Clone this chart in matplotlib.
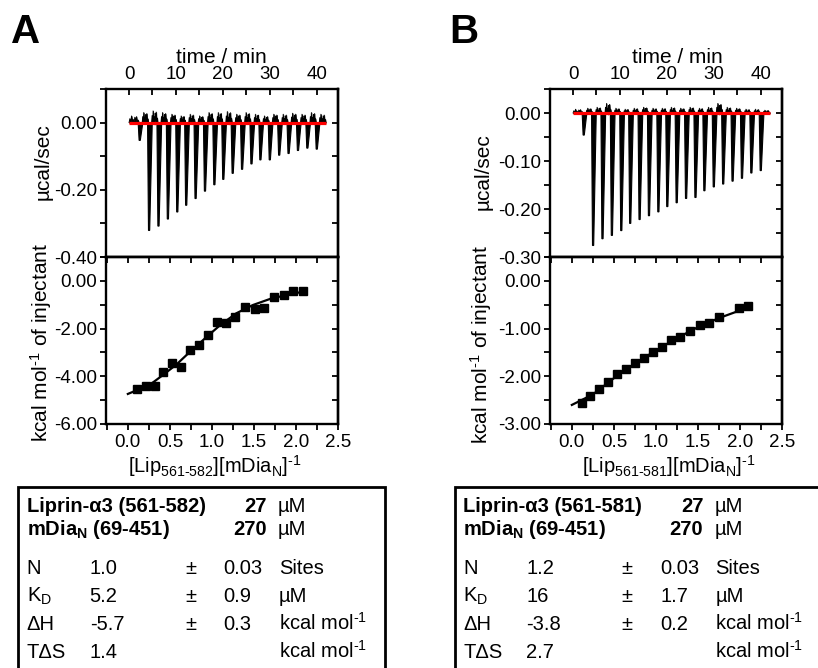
import matplotlib.pyplot as plt
from matplotlib.patches import Rectangle
from matplotlib.ticker import MultipleLocator, FormatStrFormatter

plt.rcParams['font.family'] = ['Liberation Sans', 'DejaVu Sans']
plt.rcParams['mathtext.fontset'] = 'custom'
plt.rcParams['mathtext.rm'] = 'Liberation Sans'
plt.rcParams['mathtext.it'] = 'Liberation Sans:italic'
plt.rcParams['mathtext.bf'] = 'Liberation Sans:bold'
plt.rcParams['axes.unicode_minus'] = False

# ---- data ----
# injection times (min), shared by both runs
inj_time = [2.2, 4.2, 6.2, 8.2, 10.2, 12.1, 14.1, 16.1, 18.1, 20.0,
            22.0, 24.0, 26.0, 27.9, 29.9, 31.9, 33.9, 35.9, 37.9, 39.9]

# peak heights of the raw thermograms (ucal/sec)
peak_a = [-0.053, -0.321, -0.308, -0.287, -0.266, -0.246, -0.226, -0.204, -0.185, -0.169,
          -0.151, -0.139, -0.123, -0.111, -0.111, -0.097, -0.092, -0.083, -0.076, -0.079]
peak_b = [-0.046, -0.276, -0.262, -0.255, -0.245, -0.230, -0.222, -0.214, -0.206, -0.195,
          -0.187, -0.178, -0.176, -0.162, -0.154, -0.148, -0.142, -0.136, -0.125, -0.120]

# largest baseline excursion between injections (ucal/sec)
noise_a = [0.020, 0.030, 0.035, 0.030, 0.025, 0.020, 0.025, 0.020, 0.030, 0.030, 0.033,
           0.025, 0.030, 0.025, 0.020, 0.025, 0.025, 0.028, 0.025, 0.030, 0.025]
noise_b = [0.008, 0.010, 0.012, 0.020, 0.010, 0.008, 0.010, 0.012, 0.010, 0.010, 0.012,
           0.010, 0.012, 0.010, 0.012, 0.020, 0.012, 0.010, 0.008, 0.008, 0.006]

# integrated heats: molar ratio and kcal/mol of injectant
ratio_a = [0.111, 0.218, 0.317, 0.420, 0.528, 0.630, 0.738, 0.841, 0.948, 1.060,
           1.163, 1.274, 1.397, 1.508, 1.619, 1.734, 1.857, 1.964, 2.079]
heat_a = [-4.53, -4.42, -4.42, -3.83, -3.44, -3.61, -2.90, -2.70, -2.25, -1.73,
          -1.76, -1.50, -1.10, -1.17, -1.12, -0.66, -0.60, -0.43, -0.41]
ratio_b = [0.116, 0.219, 0.327, 0.431, 0.538, 0.642, 0.750, 0.853, 0.961, 1.069,
           1.180, 1.288, 1.403, 1.519, 1.635, 1.746, 1.986, 2.100]
heat_b = [-2.55, -2.41, -2.26, -2.13, -1.96, -1.85, -1.72, -1.62, -1.50, -1.38,
          -1.24, -1.18, -1.05, -0.92, -0.88, -0.75, -0.56, -0.52]

# fitted curves as drawn
fit_ratio_a = [0.00, 0.26, 0.42, 0.58, 0.74, 0.94, 1.10, 1.29, 1.49, 1.69, 1.89, 2.09]
fit_heat_a = [-4.74, -4.36, -3.94, -3.50, -2.97, -2.34, -1.85, -1.36, -1.01, -0.76, -0.59, -0.45]
fit_ratio_b = [0.00, 0.25, 0.50, 0.75, 1.00, 1.25, 1.50, 1.75, 2.00, 2.11]
fit_heat_b = [-2.60, -2.38, -2.04, -1.73, -1.46, -1.20, -0.97, -0.78, -0.62, -0.55]

# fit result tables
header_a = [('Liprin-\u03b13 (561-582)', '27'), (r'mDia$_{\mathbf{N}}$ (69-451)', '270')]
header_b = [('Liprin-\u03b13 (561-581)', '27'), (r'mDia$_{\mathbf{N}}$ (69-451)', '270')]
param_names = ['N', r'K$_{\mathrm{D}}$', '\u0394H', 'T\u0394S']
param_units = ['Sites', '\u00b5M', r'kcal mol$^{\text{-1}}$', r'kcal mol$^{\text{-1}}$']
value_a = ['1.0', '5.2', '-5.7', '1.4']
error_a = ['0.03', '0.9', '0.3', '']
value_b = ['1.2', '16', '-3.8', '2.7']
error_b = ['0.03', '1.7', '0.2', '']

W, H = 818, 668
fig = plt.figure(figsize=(W / 100, H / 100), dpi=100)

TICK_FS = 13.5
LABEL_FS = 15
TABLE_FS = 14.5


def fx(px):
    return px / W


def fy(py):
    return 1 - py / H


def style_axes(ax, xmaj, xmin, ymaj, ymin, fmt, in_side):
    for s in ax.spines.values():
        s.set_linewidth(1.7)
    ax.xaxis.set_major_locator(MultipleLocator(xmaj))
    ax.xaxis.set_minor_locator(MultipleLocator(xmin))
    ax.yaxis.set_major_locator(MultipleLocator(ymaj))
    ax.yaxis.set_minor_locator(MultipleLocator(ymin))
    ax.yaxis.set_major_formatter(FormatStrFormatter(fmt))
    ax.tick_params(which='both', length=4, width=1.3, labelsize=TICK_FS)
    ax.tick_params(axis='y', which='both', direction='out', left=True, right=False, pad=2.5)
    # mirrored ticks on the right side, pointing in
    sec = ax.secondary_yaxis('right')
    sec.yaxis.set_major_locator(MultipleLocator(ymaj))
    sec.yaxis.set_minor_locator(MultipleLocator(ymin))
    sec.tick_params(which='both', direction='in', length=4, width=1.3, labelright=False)
    sec.spines['right'].set_linewidth(1.7)
    if in_side == 'top':
        sec2 = ax.secondary_xaxis('top')
        sec2.xaxis.set_major_locator(MultipleLocator(xmaj))
        sec2.xaxis.set_minor_locator(MultipleLocator(xmin))
        sec2.tick_params(which='both', direction='in', length=4, width=1.3, labeltop=False)
        sec2.spines['top'].set_linewidth(1.7)
        ax.tick_params(axis='x', which='both', direction='out', top=False, bottom=True, pad=3.5)


def draw_trace(ax, peaks, noise):
    # baseline noise between injections
    zig = [0.0, 0.6, -0.2, 1.0, 0.1, 0.5, -0.3, 0.8, 0.2, 0.9, -0.1, 0.4, 0.0]
    edges = [0.0] + inj_time + [42.0]
    for k in range(len(edges) - 1):
        a = edges[k] + (0.6 if k > 0 else 0.0)
        b = edges[k + 1] - 0.1
        n = len(zig)
        xs = [a + (b - a) * i / (n - 1) for i in range(n)]
        ys = [v * noise[k] if v > 0 else v * noise[k] * 0.5 for v in zig]
        ax.fill_between(xs, ys, 0, color='black', lw=0.6)
        ax.plot(xs, ys, color='black', lw=0.6)
    # injection peaks
    for t, d in zip(inj_time, peaks):
        ax.fill([t - 0.25, t - 0.05, t + 0.2, t + 0.75], [0, d, d, 0],
                color='black', lw=0.8)
    ax.plot([0, 42], [0, 0], color='red', lw=2.3, solid_capstyle='butt', zorder=5)


def panel(left, peaks, noise, raw_ylim, raw_major, raw_minor, ratio, heat,
          fit_r, fit_h, heat_ylim, heat_major, heat_minor):
    w = 232
    ax1 = fig.add_axes([fx(left), fy(257), fx(w), 168 / H])
    ax2 = fig.add_axes([fx(left), fy(424), fx(w), 167 / H])

    draw_trace(ax1, peaks, noise)
    ax1.set_xlim(-4.9, 44.5)
    ax1.set_ylim(*raw_ylim)
    style_axes(ax1, 10, 5, raw_major, raw_minor, '%.2f', None)
    ax1.xaxis.tick_top()
    ax1.tick_params(axis='x', which='both', direction='in', top=True, bottom=False, pad=4)

    ax2.plot(fit_r, fit_h, color='black', lw=1.6)
    ax2.plot(ratio, heat, 's', color='black', ms=6)
    ax2.set_xlim(-0.26, 2.5)
    ax2.set_ylim(*heat_ylim)
    style_axes(ax2, 0.5, 0.25, heat_major, heat_minor, '%.2f', 'top')
    ax2.xaxis.set_major_formatter(FormatStrFormatter('%.1f'))
    return ax1, ax2


panel(106, peak_a, noise_a, (-0.40, 0.10), 0.2, 0.1, ratio_a, heat_a,
      fit_ratio_a, fit_heat_a, (-6, 1), 2, 1)
panel(550, peak_b, noise_b, (-0.30, 0.05), 0.1, 0.05, ratio_b, heat_b,
      fit_ratio_b, fit_heat_b, (-3, 0.5), 1, 0.5)

# panel letters and axis titles
fig.text(fx(11), fy(43.3), 'A', fontsize=29, fontweight='bold', va='baseline')
fig.text(fx(449), fy(43.3), 'B', fontsize=29, fontweight='bold', va='baseline')
for cx, cy_top, cy_bot, xl_top, xl_bot, xlabel in [
        (43, 162, 343, 221, 215, r'[Lip$_{\mathrm{561\text{-}582}}$][mDia$_{\mathrm{N}}$]$^{\text{-1}}$'),
        (483, 172, 345, 677, 669, r'[Lip$_{\mathrm{561\text{-}581}}$][mDia$_{\mathrm{N}}$]$^{\text{-1}}$')]:
    fig.text(fx(cx), fy(cy_top), '\u00b5cal/sec', rotation=90, ha='center', va='center', fontsize=LABEL_FS)
    fig.text(fx(cx - 2), fy(cy_bot), r'kcal mol$^{\text{-1}}$ of injectant', rotation=90,
             ha='center', va='center', fontsize=LABEL_FS)
    fig.text(fx(xl_top), fy(63), 'time / min', ha='center', va='baseline', fontsize=LABEL_FS)
    fig.text(fx(xl_bot), fy(473), xlabel, ha='center', va='baseline', fontsize=LABEL_FS - 0.5)

# result tables
rows_y = [573.7, 601.7, 630, 658.3]
for x0, box_right, header, vals, errs in [(26.7, 385, header_a, value_a, error_a),
                                          (463.3, 830, header_b, value_b, error_b)]:
    fig.patches.append(Rectangle((fx(x0 - 8.7), fy(700)), fx(box_right - x0 + 8.7), (700 - 487) / H,
                                 transform=fig.transFigure, fill=False, lw=2.0, ec='black',
                                 clip_on=False))
    for (name, conc), y in zip(header, [512.3, 535]):
        fig.text(fx(x0), fy(y), name, fontsize=TABLE_FS, fontweight='bold', va='baseline')
        fig.text(fx(x0 + 240), fy(y), conc, fontsize=TABLE_FS, fontweight='bold', va='baseline', ha='right')
        fig.text(fx(x0 + 251), fy(y), '\u00b5M', fontsize=TABLE_FS, va='baseline')
    for name, v, e, u, y in zip(param_names, vals, errs, param_units, rows_y):
        fig.text(fx(x0), fy(y), name, fontsize=TABLE_FS, va='baseline')
        fig.text(fx(x0 + 63), fy(y), v, fontsize=TABLE_FS, va='baseline')
        if e:
            fig.text(fx(x0 + 164), fy(y), '\u00b1', fontsize=TABLE_FS, va='baseline', ha='center')
            fig.text(fx(x0 + 197), fy(y), e, fontsize=TABLE_FS, va='baseline')
        fig.text(fx(x0 + 252), fy(y), u, fontsize=TABLE_FS, va='baseline')

fig.savefig('out.png', dpi=100)
